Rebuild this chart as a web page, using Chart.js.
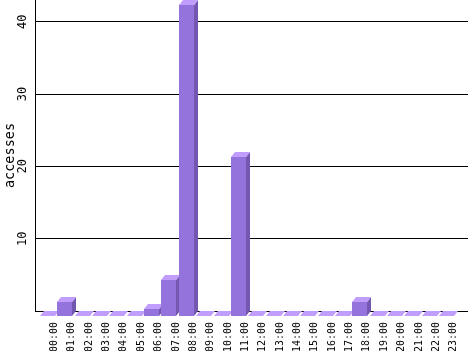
<!DOCTYPE html>
<html><head><meta charset="utf-8">
<script src="https://cdn.jsdelivr.net/npm/chart.js@4"></script>
<style>html,body{margin:0;padding:0;background:#fff;}canvas{display:block;}</style>
</head><body>
<canvas id="c" width="468" height="351"></canvas>
<script>
const hours = ['00:00','01:00','02:00','03:00','04:00','05:00','06:00','07:00','08:00','09:00','10:00','11:00','12:00','13:00','14:00','15:00','16:00','17:00','18:00','19:00','20:00','21:00','22:00','23:00'];
const accesses = [0,2,0,0,0,0,1,5,43,0,0,22,0,0,0,0,0,0,2,0,0,0,0,0];
const yTicks = [0,10,20,30,40];
const yTitle = 'accesses';

const FRONT = '#9474dc', TOP = '#c19dfd', SIDE = '#7357b0';
const DX = 4, DY = 5;
const MONO = '"DejaVu Sans Mono", "Liberation Mono", monospace';

const bar3d = {
  id: 'bar3d',
  afterDatasetsDraw(chart) {
    const ctx = chart.ctx;
    const meta = chart.getDatasetMeta(0);
    ctx.save();
    meta.data.forEach(el => {
      const p = el.getProps(['x','y','base','width'], true);
      const L = Math.round(p.x - p.width/2), R = Math.round(p.x + p.width/2);
      const T = Math.round(Math.min(p.y, p.base)), B = Math.round(Math.max(p.y, p.base));
      ctx.fillStyle = SIDE;
      ctx.beginPath(); ctx.moveTo(R - DX, T + DY); ctx.lineTo(R, T); ctx.lineTo(R, B); ctx.lineTo(R - DX, B + DY); ctx.closePath(); ctx.fill();
      ctx.fillStyle = TOP;
      ctx.beginPath(); ctx.moveTo(L - DX, T + DY); ctx.lineTo(R - DX, T + DY); ctx.lineTo(R, T); ctx.lineTo(L, T); ctx.closePath(); ctx.fill();
      if (B > T) { ctx.fillStyle = FRONT; ctx.fillRect(L - DX, T + DY, R - L, B - T); }
    });
    ctx.restore();
  },
  afterDraw(chart) {
    const ctx = chart.ctx, ys = chart.scales.y;
    ctx.save();
    ctx.fillStyle = '#000';
    ctx.font = '12px ' + MONO;
    ctx.textAlign = 'center'; ctx.textBaseline = 'middle';
    yTicks.forEach(v => {
      if (v === 0) return;
      const py = ys.getPixelForValue(v);
      ctx.save(); ctx.translate(22.5, py); ctx.rotate(-Math.PI/2);
      ctx.fillText(String(v), 0, 0);
      ctx.restore();
    });
    ctx.restore();
  }
};

new Chart(document.getElementById('c'), {
  type: 'bar',
  data: {
    datasets: [{
      data: accesses.map((v, i) => ({x: i, y: v})),
      backgroundColor: 'rgba(0,0,0,0)',
      borderWidth: 0,
      barThickness: 15,
      clip: false
    }]
  },
  options: {
    responsive: false,
    animation: false,
    devicePixelRatio: 1,
    layout: { padding: 0 },
    plugins: { legend: { display: false }, tooltip: { enabled: false } },
    scales: {
      x: {
        type: 'linear',
        offset: false,
        min: -0.95, max: 24,
        afterBuildTicks: axis => { axis.ticks = hours.map((h, i) => ({ value: i })); },
        afterFit: axis => { axis.height = 40; axis.paddingLeft = 0; axis.paddingRight = 0; },
        grid: { display: false, drawTicks: false, offset: false },
        border: { display: false },
        ticks: {
          autoSkip: false, minRotation: 90, maxRotation: 90, padding: 11, labelOffset: 3,
          color: '#000', font: { family: MONO, size: 10 },
          callback: v => hours[v] !== undefined ? hours[v] : ''
        }
      },
      y: {
        min: 0, max: 43,
        afterBuildTicks: axis => { axis.ticks = yTicks.map(v => ({ value: v })); },
        afterFit: axis => { axis.width = 35; axis.paddingTop = 0; axis.paddingBottom = 0; },
        grid: { color: '#000', lineWidth: 1, drawTicks: false },
        border: { display: true, color: '#000', width: 1 },
        ticks: { display: false },
        title: { display: true, text: yTitle, color: '#000', font: { family: MONO, size: 13.5 }, padding: { top: 2, bottom: 0 } }
      }
    }
  },
  plugins: [bar3d]
});
</script>
</body></html>
